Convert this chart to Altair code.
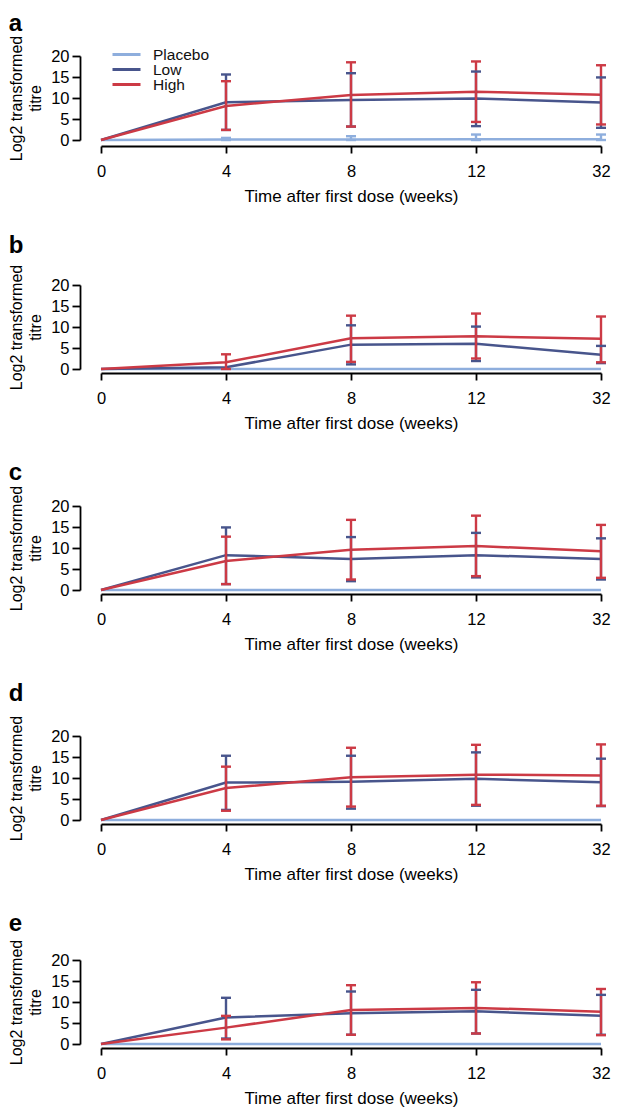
import altair as alt
import pandas as pd

weeks = ["0", "4", "8", "12", "32"]
groups = ["Placebo", "Low", "High"]
colors = ["#8EAEDD", "#48558C", "#CC3A45"]
letters = ["a", "b", "c", "d", "e"]

# ---- panel a ----
a_placebo_mean = [0.0, 0.1, 0.1, 0.2, 0.2]
a_placebo_lo = [None, 0.0, 0.0, 0.0, 0.0]
a_placebo_hi = [None, 0.5, 0.9, 1.3, 1.3]
a_low_mean = [0.0, 9.0, 9.5, 9.9, 8.9]
a_low_lo = [None, 2.4, 3.2, 3.3, 2.9]
a_low_hi = [None, 15.6, 15.9, 16.3, 14.9]
a_high_mean = [0.0, 8.1, 10.7, 11.5, 10.8]
a_high_lo = [None, 2.4, 3.2, 4.3, 3.7]
a_high_hi = [None, 14.0, 18.5, 18.7, 17.8]

# ---- panel b ----
b_placebo_mean = [0.0, 0.0, 0.0, 0.0, 0.0]
b_placebo_lo = [None, None, None, None, None]
b_placebo_hi = [None, None, None, None, None]
b_low_mean = [0.0, 0.4, 5.8, 6.0, 3.4]
b_low_lo = [None, None, 1.1, 1.9, 1.4]
b_low_hi = [None, None, 10.4, 10.1, 5.5]
b_high_mean = [0.0, 1.6, 7.3, 7.8, 7.2]
b_high_lo = [None, 0.0, 1.7, 2.5, 1.6]
b_high_hi = [None, 3.5, 12.7, 13.2, 12.5]

# ---- panel c ----
c_placebo_mean = [0.0, 0.0, 0.0, 0.0, 0.0]
c_placebo_lo = [None, None, None, None, None]
c_placebo_hi = [None, None, None, None, None]
c_low_mean = [0.0, 8.3, 7.4, 8.3, 7.4]
c_low_lo = [None, 1.4, 2.1, 3.0, 2.5]
c_low_hi = [None, 14.9, 12.6, 13.6, 12.3]
c_high_mean = [0.0, 6.9, 9.6, 10.5, 9.2]
c_high_lo = [None, 1.4, 2.5, 3.3, 2.9]
c_high_hi = [None, 12.7, 16.7, 17.7, 15.5]

# ---- panel d ----
d_placebo_mean = [0.0, 0.0, 0.0, 0.0, 0.0]
d_placebo_lo = [None, None, None, None, None]
d_placebo_hi = [None, None, None, None, None]
d_low_mean = [0.0, 8.9, 9.1, 9.8, 9.0]
d_low_lo = [None, 2.4, 2.7, 3.4, 3.3]
d_low_hi = [None, 15.3, 15.3, 16.1, 14.6]
d_high_mean = [0.0, 7.6, 10.2, 10.8, 10.6]
d_high_lo = [None, 2.2, 3.2, 3.6, 3.4]
d_high_hi = [None, 12.7, 17.2, 17.9, 18.0]

# ---- panel e ----
e_placebo_mean = [0.0, 0.0, 0.0, 0.0, 0.0]
e_placebo_lo = [None, None, None, None, None]
e_placebo_hi = [None, None, None, None, None]
e_low_mean = [0.0, 6.3, 7.3, 7.8, 6.7]
e_low_lo = [None, 1.3, 2.2, 2.5, 2.2]
e_low_hi = [None, 11.0, 12.5, 12.9, 11.7]
e_high_mean = [0.0, 3.9, 8.1, 8.6, 7.7]
e_high_lo = [None, 1.1, 2.2, 2.5, 2.1]
e_high_hi = [None, 6.7, 14.0, 14.7, 13.1]

panel_series = {
    "a": [(a_placebo_mean, a_placebo_lo, a_placebo_hi), (a_low_mean, a_low_lo, a_low_hi), (a_high_mean, a_high_lo, a_high_hi)],
    "b": [(b_placebo_mean, b_placebo_lo, b_placebo_hi), (b_low_mean, b_low_lo, b_low_hi), (b_high_mean, b_high_lo, b_high_hi)],
    "c": [(c_placebo_mean, c_placebo_lo, c_placebo_hi), (c_low_mean, c_low_lo, c_low_hi), (c_high_mean, c_high_lo, c_high_hi)],
    "d": [(d_placebo_mean, d_placebo_lo, d_placebo_hi), (d_low_mean, d_low_lo, d_low_hi), (d_high_mean, d_high_lo, d_high_hi)],
    "e": [(e_placebo_mean, e_placebo_lo, e_placebo_hi), (e_low_mean, e_low_lo, e_low_hi), (e_high_mean, e_high_lo, e_high_hi)],
}

x_offsets = {"a": 6, "b": 4, "c": 4, "d": 4, "e": 4}
title_offsets = {"a": -0.5, "b": 6.5, "c": 0.5, "d": 9.5, "e": 3.5}

FONT = "Liberation Sans"
Y_TITLE = ["Log2 transformed", "titre"]
X_TITLE = "Time after first dose (weeks)"


def make_df(letter):
    rows = []
    for g, (m, lo, hi) in zip(groups, panel_series[letter]):
        for i, w in enumerate(weeks):
            rows.append({"group": g, "gi": groups.index(g), "week": w,
                         "mean": m[i], "lo": lo[i], "hi": hi[i]})
    return pd.DataFrame(rows)


def panel(letter, show_legend):
    df = make_df(letter)
    base = alt.Chart(df)
    xenc = alt.X("week:O", sort=weeks,
                 scale=alt.Scale(type="point", padding=0),
                 axis=alt.Axis(offset=x_offsets[letter], labelAngle=0),
                 title=X_TITLE)
    yscale = alt.Scale(domain=[0, 20], nice=False, zero=True)
    yaxis = alt.Axis(values=[0, 5, 10, 15, 20], offset=21)
    if show_legend:
        legend = alt.Legend(orient="none", legendX=10, legendY=-7.5, title=None,
                            symbolType="stroke", symbolSize=784, symbolStrokeWidth=3,
                            labelFontSize=15.5, labelFont=FONT, labelColor="#111",
                            clipHeight=12, rowPadding=-2.5, labelOffset=11, padding=0)
    else:
        legend = None
    cscale = alt.Scale(domain=groups, range=colors)
    cenc = alt.Color("group:N", scale=cscale, legend=legend)
    cenc2 = alt.Color("group:N", scale=cscale, legend=None)

    lines = base.mark_line(strokeWidth=2.5).encode(
        x=xenc,
        y=alt.Y("mean:Q", scale=yscale, axis=yaxis, title=Y_TITLE),
        color=cenc,
        order="gi:Q",
    )
    eb = base.transform_filter("isValid(datum.lo)")
    rules = eb.mark_rule(strokeWidth=2.4).encode(
        x=xenc,
        y=alt.Y("lo:Q", scale=yscale, axis=yaxis, title=Y_TITLE),
        y2="hi:Q",
        color=cenc2,
    )
    tick_lo = eb.mark_tick(size=10, thickness=2.4, opacity=1).encode(
        x=xenc,
        y=alt.Y("lo:Q", scale=yscale, axis=yaxis, title=Y_TITLE),
        color=cenc2,
    )
    tick_hi = eb.mark_tick(size=10, thickness=2.4, opacity=1).encode(
        x=xenc,
        y=alt.Y("hi:Q", scale=yscale, axis=yaxis, title=Y_TITLE),
        color=cenc2,
    )
    layer = alt.layer(lines, rules, tick_lo, tick_hi).properties(
        width=500, height=84,
        title=alt.TitleParams(text=letter, anchor="start", frame="bounds",
                              fontSize=24, fontWeight="bold", font=FONT,
                              color="#000", offset=title_offsets[letter]),
    )
    return layer


charts = [panel(l, l == "a") for l in letters]

chart = alt.vconcat(*charts, spacing=28).resolve_legend(color="independent").properties(
    padding={"left": 0, "top": 3, "right": 0, "bottom": 0}
).configure_view(stroke=None).configure_axis(
    grid=False,
    domainColor="#000", domainWidth=1.8,
    tickColor="#000", tickWidth=1.8,
    labelFont=FONT, labelFontSize=16.5, labelColor="#000",
    titleFont=FONT, titleFontWeight="normal", titleColor="#000",
).configure_axisX(
    titlePadding=9, labelPadding=10, tickSize=7, titleFontSize=17
).configure_axisY(
    titlePadding=7, labelPadding=3, tickSize=8, titleFontSize=16, titleLineHeight=19
).configure_title(
    anchor="start"
)

chart.save("out.html", embed_options={"renderer": "svg", "actions": False})
